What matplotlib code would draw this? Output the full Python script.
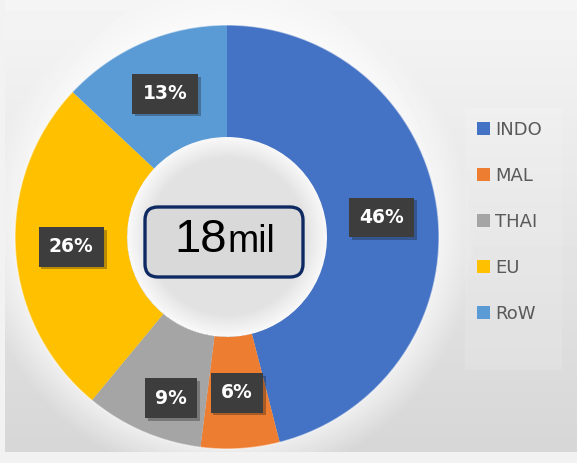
#!/usr/bin/env python3

import matplotlib
matplotlib.use("Agg")
import matplotlib.pyplot as plt
import matplotlib.patheffects as pe
from matplotlib.patches import FancyBboxPatch, Rectangle, Circle
import numpy as np

# data
regions = ["INDO", "MAL", "THAI", "EU", "RoW"]
shares = [46, 6, 9, 26, 13]
colors = ["#4472C4", "#ED7D31", "#A5A5A5", "#FFC000", "#5B9BD5"]
total_label = "18"
total_unit = "mil"

W, H = 577, 463
CX, CY = 227, 226          # donut centre (pixel coords, y up)
R_OUT, R_IN = 212, 100


def background(ax):
    # soft grey gradient with a faint white glow round the ring
    x0, x1, y0, y1 = 5, W, 11, H
    yy, xx = np.mgrid[y0:y1, x0:x1].astype(float)
    base = 0.84 + 0.12 * (yy - y0) / (y1 - y0)
    r = np.hypot(xx - CX, yy - CY)
    glow_out = np.clip(1 - (r - R_OUT) / 35, 0, 1) * (r >= R_OUT)
    glow_in = np.clip(1 - (R_IN - r) / 22, 0, 1)
    img = base + (1 - base) * 0.55 * glow_out
    hole = 0.885 + 0.09 * glow_in
    img = np.where(r <= R_IN, hole, img)
    ax.imshow(np.clip(img, 0, 1), cmap="gray", vmin=0, vmax=1, origin="lower",
              extent=(x0, x1, y0, y1), zorder=0, interpolation="bilinear")


def main():
    fig = plt.figure(figsize=(W / 100, H / 100), dpi=100)
    fig.patch.set_facecolor("#f2f2f2")
    ax = fig.add_axes([0, 0, 1, 1])
    background(ax)

    wedges, _ = ax.pie(shares, colors=colors, startangle=90, counterclock=False,
                       radius=R_OUT, center=(CX, CY),
                       wedgeprops=dict(width=R_OUT - R_IN, edgecolor="none"))
    for w in wedges:
        w.set_zorder(2)
    ax.add_patch(Circle((CX, CY), R_OUT, fill=False, ec="white", lw=1.0,
                        alpha=0.5, zorder=3))

    # data labels in dark boxes
    nudge = {"THAI": (6, -18)}
    cum = 0
    mid_r = (R_OUT + R_IN) / 2
    for name, val in zip(regions, shares):
        ang = np.deg2rad(90 - (cum + val / 2) / sum(shares) * 360)
        cum += val
        dx, dy = nudge.get(name, (0, 0))
        x = CX + mid_r * np.cos(ang) + dx
        y = CY + mid_r * np.sin(ang) + dy
        t = ax.text(x, y, f"{val}%", ha="center", va="center", color="white",
                    fontsize=13.5, fontweight="bold", family="DejaVu Sans",
                    zorder=5,
                    bbox=dict(boxstyle="square,pad=0.55", fc="#3d3d3d", ec="none"))
        t.get_bbox_patch().set_path_effects(
            [pe.SimplePatchShadow(offset=(2, -2), alpha=0.3), pe.Normal()])

    # total in the middle
    ax.add_patch(FancyBboxPatch((145, H - 277), 158, 70,
                                boxstyle="round,pad=0,rounding_size=13",
                                fc="#d9d9d9", ec="#0f2a62", lw=2.4, zorder=4))
    ax.text(227, H - 252, total_label, ha="right", va="baseline", fontsize=34,
            family="Liberation Sans", color="black", zorder=5)
    ax.text(227, H - 252, total_unit, ha="left", va="baseline", fontsize=27,
            family="Liberation Sans", color="black", zorder=5)

    # legend
    ax.add_patch(Rectangle((465, H - 370), 97, 262, fc="white", ec="none",
                           alpha=0.12, zorder=1))
    handles = [Rectangle((0, 0), 1, 1, fc=c, ec="none") for c in colors]
    leg = ax.legend(handles, regions, loc="upper left",
                    bbox_to_anchor=(468, H - 112), bbox_transform=ax.transData,
                    frameon=False, labelspacing=1.55,
                    handlelength=0.72, handleheight=0.72, handletextpad=0.3,
                    borderpad=0, prop={"family": "DejaVu Sans", "size": 13})
    for txt in leg.get_texts():
        txt.set_color("#595959")

    ax.set_xlim(0, W)
    ax.set_ylim(0, H)
    ax.set_aspect("auto")
    ax.axis("off")

    fig.savefig("out.png", dpi=100, facecolor=fig.get_facecolor())
    plt.close(fig)


if __name__ == "__main__":
    main()
